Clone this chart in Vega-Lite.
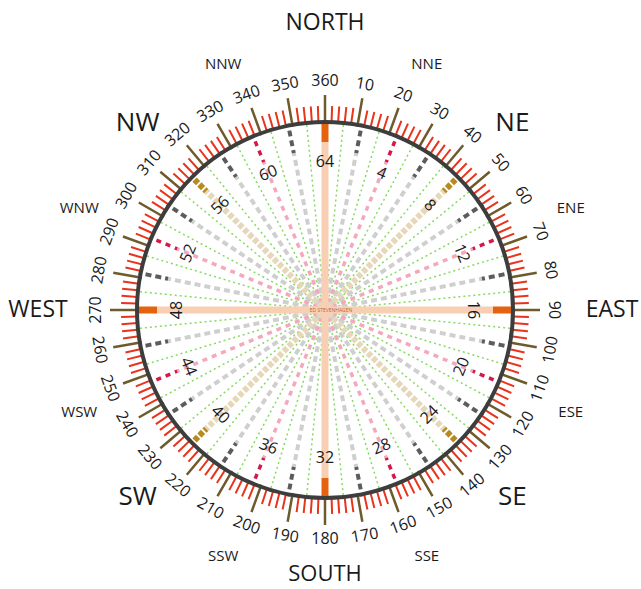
{
  "$schema": "https://vega.github.io/schema/vega-lite/v6.json",
  "autosize": "none",
  "width": 632,
  "height": 558,
  "padding": {"left": 9, "right": 0, "top": 31, "bottom": 0},
  "background": "white",
  "config": {"view": {"stroke": null}, "text": {"font": "Open Sans", "color": "#1a1a1a"}},
  "datasets": {
    "lines": [
      {"n":1,"b":5.625},{"n":2,"b":11.25},{"n":3,"b":16.875},{"n":4,"b":22.5},{"n":5,"b":28.125},{"n":6,"b":33.75},{"n":7,"b":39.375},{"n":8,"b":45},
      {"n":9,"b":50.625},{"n":10,"b":56.25},{"n":11,"b":61.875},{"n":12,"b":67.5},{"n":13,"b":73.125},{"n":14,"b":78.75},{"n":15,"b":84.375},{"n":16,"b":90},
      {"n":17,"b":95.625},{"n":18,"b":101.25},{"n":19,"b":106.875},{"n":20,"b":112.5},{"n":21,"b":118.125},{"n":22,"b":123.75},{"n":23,"b":129.375},{"n":24,"b":135},
      {"n":25,"b":140.625},{"n":26,"b":146.25},{"n":27,"b":151.875},{"n":28,"b":157.5},{"n":29,"b":163.125},{"n":30,"b":168.75},{"n":31,"b":174.375},{"n":32,"b":180},
      {"n":33,"b":185.625},{"n":34,"b":191.25},{"n":35,"b":196.875},{"n":36,"b":202.5},{"n":37,"b":208.125},{"n":38,"b":213.75},{"n":39,"b":219.375},{"n":40,"b":225},
      {"n":41,"b":230.625},{"n":42,"b":236.25},{"n":43,"b":241.875},{"n":44,"b":247.5},{"n":45,"b":253.125},{"n":46,"b":258.75},{"n":47,"b":264.375},{"n":48,"b":270},
      {"n":49,"b":275.625},{"n":50,"b":281.25},{"n":51,"b":286.875},{"n":52,"b":292.5},{"n":53,"b":298.125},{"n":54,"b":303.75},{"n":55,"b":309.375},{"n":56,"b":315},
      {"n":57,"b":320.625},{"n":58,"b":326.25},{"n":59,"b":331.875},{"n":60,"b":337.5},{"n":61,"b":343.125},{"n":62,"b":348.75},{"n":63,"b":354.375},{"n":64,"b":360}
    ],
    "ticks": [
      {"d":2},{"d":4},{"d":6},{"d":8},{"d":10},{"d":12},{"d":14},{"d":16},{"d":18},{"d":20},
      {"d":22},{"d":24},{"d":26},{"d":28},{"d":30},{"d":32},{"d":34},{"d":36},{"d":38},{"d":40},
      {"d":42},{"d":44},{"d":46},{"d":48},{"d":50},{"d":52},{"d":54},{"d":56},{"d":58},{"d":60},
      {"d":62},{"d":64},{"d":66},{"d":68},{"d":70},{"d":72},{"d":74},{"d":76},{"d":78},{"d":80},
      {"d":82},{"d":84},{"d":86},{"d":88},{"d":90},{"d":92},{"d":94},{"d":96},{"d":98},{"d":100},
      {"d":102},{"d":104},{"d":106},{"d":108},{"d":110},{"d":112},{"d":114},{"d":116},{"d":118},{"d":120},
      {"d":122},{"d":124},{"d":126},{"d":128},{"d":130},{"d":132},{"d":134},{"d":136},{"d":138},{"d":140},
      {"d":142},{"d":144},{"d":146},{"d":148},{"d":150},{"d":152},{"d":154},{"d":156},{"d":158},{"d":160},
      {"d":162},{"d":164},{"d":166},{"d":168},{"d":170},{"d":172},{"d":174},{"d":176},{"d":178},{"d":180},
      {"d":182},{"d":184},{"d":186},{"d":188},{"d":190},{"d":192},{"d":194},{"d":196},{"d":198},{"d":200},
      {"d":202},{"d":204},{"d":206},{"d":208},{"d":210},{"d":212},{"d":214},{"d":216},{"d":218},{"d":220},
      {"d":222},{"d":224},{"d":226},{"d":228},{"d":230},{"d":232},{"d":234},{"d":236},{"d":238},{"d":240},
      {"d":242},{"d":244},{"d":246},{"d":248},{"d":250},{"d":252},{"d":254},{"d":256},{"d":258},{"d":260},
      {"d":262},{"d":264},{"d":266},{"d":268},{"d":270},{"d":272},{"d":274},{"d":276},{"d":278},{"d":280},
      {"d":282},{"d":284},{"d":286},{"d":288},{"d":290},{"d":292},{"d":294},{"d":296},{"d":298},{"d":300},
      {"d":302},{"d":304},{"d":306},{"d":308},{"d":310},{"d":312},{"d":314},{"d":316},{"d":318},{"d":320},
      {"d":322},{"d":324},{"d":326},{"d":328},{"d":330},{"d":332},{"d":334},{"d":336},{"d":338},{"d":340},
      {"d":342},{"d":344},{"d":346},{"d":348},{"d":350},{"d":352},{"d":354},{"d":356},{"d":358},{"d":360}
    ],
    "points": [
      {"name":"NORTH","b":0},{"name":"NNE","b":22.5},{"name":"NE","b":45},{"name":"ENE","b":67.5},
      {"name":"EAST","b":90},{"name":"ESE","b":112.5},{"name":"SE","b":135},{"name":"SSE","b":157.5},
      {"name":"SOUTH","b":180},{"name":"SSW","b":202.5},{"name":"SW","b":225},{"name":"WSW","b":247.5},
      {"name":"WEST","b":270},{"name":"WNW","b":292.5},{"name":"NW","b":315},{"name":"NNW","b":337.5}
    ],
    "credit": [{"credit":"ED STEVENHAGEN"}]
  },
  "resolve": {"scale": {"angle": "independent"}},
  "layer": [
    {
      "data": {"name": "lines"},
      "transform": [{"filter": "datum.n % 2 == 1"}],
      "mark": {"type": "arc", "filled": false, "radius": 190, "radius2": 0, "stroke": "#86da60", "strokeWidth": 1.5, "strokeDash": [1, 4]},
      "encoding": {
        "theta": {"field": "b", "type": "quantitative", "stack": null, "scale": {"domain": [0, 360], "range": [0, 6.283185307179586]}},
        "theta2": {"field": "b"}
      }
    },
    {
      "data": {"name": "lines"},
      "transform": [{"filter": "datum.n % 4 == 2"}],
      "mark": {"type": "arc", "filled": false, "radius": 160, "radius2": 0, "stroke": "#cfcfcf", "strokeWidth": 4, "strokeDash": [3, 7]},
      "encoding": {
        "theta": {"field": "b", "type": "quantitative", "stack": null},
        "theta2": {"field": "b"}
      }
    },
    {
      "data": {"name": "lines"},
      "transform": [{"filter": "datum.n % 4 == 2"}],
      "mark": {"type": "arc", "filled": false, "radius": 190, "radius2": 160, "stroke": "#5c5c5c", "strokeWidth": 4, "strokeDash": [3, 7]},
      "encoding": {
        "theta": {"field": "b", "type": "quantitative", "stack": null},
        "theta2": {"field": "b"}
      }
    },
    {
      "data": {"name": "lines"},
      "transform": [{"filter": "datum.n % 8 == 4"}],
      "mark": {"type": "arc", "filled": false, "radius": 160, "radius2": 0, "stroke": "#f3a9bb", "strokeWidth": 3.5, "strokeDash": [2.5, 7.5]},
      "encoding": {
        "theta": {"field": "b", "type": "quantitative", "stack": null},
        "theta2": {"field": "b"}
      }
    },
    {
      "data": {"name": "lines"},
      "transform": [{"filter": "datum.n % 8 == 4"}],
      "mark": {"type": "arc", "filled": false, "radius": 190, "radius2": 160, "stroke": "#d4184a", "strokeWidth": 3.5, "strokeDash": [2.5, 7.5]},
      "encoding": {
        "theta": {"field": "b", "type": "quantitative", "stack": null},
        "theta2": {"field": "b"}
      }
    },
    {
      "data": {"name": "lines"},
      "transform": [{"filter": "datum.n % 16 == 8"}],
      "mark": {"type": "arc", "filled": false, "radius": 168, "radius2": 0, "stroke": "#e6d7b9", "strokeWidth": 6, "strokeDash": [2.5, 4.5]},
      "encoding": {
        "theta": {"field": "b", "type": "quantitative", "stack": null},
        "theta2": {"field": "b"}
      }
    },
    {
      "data": {"name": "lines"},
      "transform": [{"filter": "datum.n % 16 == 8"}],
      "mark": {"type": "arc", "filled": false, "radius": 189, "radius2": 168, "stroke": "#b8891e", "strokeWidth": 6, "strokeDash": [2.5, 4.5]},
      "encoding": {
        "theta": {"field": "b", "type": "quantitative", "stack": null},
        "theta2": {"field": "b"}
      }
    },
    {
      "data": {"name": "lines"},
      "transform": [{"filter": "datum.n % 16 == 0"}],
      "mark": {"type": "arc", "filled": false, "radius": 168, "radius2": 0, "stroke": "#f8cfb3", "strokeWidth": 7},
      "encoding": {
        "theta": {"field": "b", "type": "quantitative", "stack": null},
        "theta2": {"field": "b"}
      }
    },
    {
      "data": {"name": "lines"},
      "transform": [{"filter": "datum.n % 16 == 0"}],
      "mark": {"type": "arc", "filled": false, "radius": 189, "radius2": 168, "stroke": "#e5620e", "strokeWidth": 7},
      "encoding": {
        "theta": {"field": "b", "type": "quantitative", "stack": null},
        "theta2": {"field": "b"}
      }
    },
    {
      "data": {"name": "ticks"},
      "transform": [{"filter": "datum.d % 10 != 0"}],
      "mark": {"type": "arc", "filled": false, "radius": 204, "radius2": 188, "stroke": "#e8341c", "strokeWidth": 2},
      "encoding": {
        "theta": {"field": "d", "type": "quantitative", "stack": null},
        "theta2": {"field": "d"}
      }
    },
    {
      "data": {"name": "ticks"},
      "transform": [{"filter": "datum.d % 10 == 0"}],
      "mark": {"type": "arc", "filled": false, "radius": 215, "radius2": 186, "stroke": "#6e5b2c", "strokeWidth": 2.5},
      "encoding": {
        "theta": {"field": "d", "type": "quantitative", "stack": null},
        "theta2": {"field": "d"}
      }
    },
    {
      "data": {"name": "credit"},
      "mark": {"type": "arc", "radius": 190, "radius2": 186, "theta": 0, "theta2": 6.2832, "fill": "#3d3d3d"},
      "encoding": {}
    },
    {
      "data": {"name": "ticks"},
      "transform": [{"filter": "datum.d % 10 == 0 && (datum.d <= 90 || datum.d >= 270)"}],
      "mark": {"type": "text", "radius": 229, "fontSize": 16, "align": "center", "baseline": "middle"},
      "encoding": {
        "theta": {"field": "d", "type": "quantitative", "stack": null},
        "text": {"field": "d", "type": "quantitative", "format": "d"},
        "angle": {"field": "d", "type": "quantitative", "scale": {"domain": [0, 360], "range": [0, 360], "zero": false, "nice": false}}
      }
    },
    {
      "data": {"name": "ticks"},
      "transform": [{"filter": "datum.d % 10 == 0 && datum.d > 90 && datum.d < 270"}],
      "mark": {"type": "text", "radius": 229, "fontSize": 16, "align": "center", "baseline": "middle"},
      "encoding": {
        "theta": {"field": "d", "type": "quantitative", "stack": null},
        "text": {"field": "d", "type": "quantitative", "format": "d"},
        "angle": {"field": "d", "type": "quantitative", "scale": {"domain": [90, 270], "range": [-90, 90], "zero": false, "nice": false}}
      }
    },
    {
      "data": {"name": "lines"},
      "transform": [{"filter": "datum.n % 4 == 0 && (datum.b <= 90 || datum.b >= 270)"}],
      "mark": {"type": "text", "radius": 148, "fontSize": 16, "align": "center", "baseline": "middle"},
      "encoding": {
        "theta": {"field": "b", "type": "quantitative", "stack": null},
        "text": {"field": "n", "type": "quantitative", "format": "d"},
        "angle": {"field": "b", "type": "quantitative", "scale": {"domain": [0, 360], "range": [0, 360], "zero": false, "nice": false}}
      }
    },
    {
      "data": {"name": "lines"},
      "transform": [{"filter": "datum.n % 4 == 0 && datum.b > 90 && datum.b < 270"}],
      "mark": {"type": "text", "radius": 148, "fontSize": 16, "align": "center", "baseline": "middle"},
      "encoding": {
        "theta": {"field": "b", "type": "quantitative", "stack": null},
        "text": {"field": "n", "type": "quantitative", "format": "d"},
        "angle": {"field": "b", "type": "quantitative", "scale": {"domain": [90, 270], "range": [-90, 90], "zero": false, "nice": false}}
      }
    },
    {
      "data": {"name": "points"},
      "transform": [{"filter": "datum.name == 'NORTH' || datum.name == 'EAST' || datum.name == 'WEST'"}],
      "mark": {"type": "text", "radius": 287, "fontSize": 23, "align": "center", "baseline": "middle"},
      "encoding": {
        "theta": {"field": "b", "type": "quantitative", "stack": null},
        "text": {"field": "name", "type": "nominal"}
      }
    },
    {
      "data": {"name": "points"},
      "transform": [{"filter": "datum.name == 'SOUTH'"}],
      "mark": {"type": "text", "radius": 264, "fontSize": 22, "align": "center", "baseline": "middle"},
      "encoding": {
        "theta": {"field": "b", "type": "quantitative", "stack": null},
        "text": {"field": "name", "type": "nominal"}
      }
    },
    {
      "data": {"name": "points"},
      "transform": [{"filter": "datum.b % 90 == 45"}],
      "mark": {"type": "text", "radius": 265, "fontSize": 26, "align": "center", "baseline": "middle"},
      "encoding": {
        "theta": {"field": "b", "type": "quantitative", "stack": null},
        "text": {"field": "name", "type": "nominal"}
      }
    },
    {
      "data": {"name": "points"},
      "transform": [{"filter": "datum.b % 45 == 22.5"}],
      "mark": {"type": "text", "radius": 266, "fontSize": 15, "align": "center", "baseline": "middle"},
      "encoding": {
        "theta": {"field": "b", "type": "quantitative", "stack": null},
        "text": {"field": "name", "type": "nominal"}
      }
    },
    {
      "data": {"name": "credit"},
      "mark": {"type": "text", "fontSize": 5, "color": "#c0663c", "align": "center", "baseline": "middle", "dx": 6},
      "encoding": {
        "text": {"field": "credit", "type": "nominal"}
      }
    }
  ]
}
